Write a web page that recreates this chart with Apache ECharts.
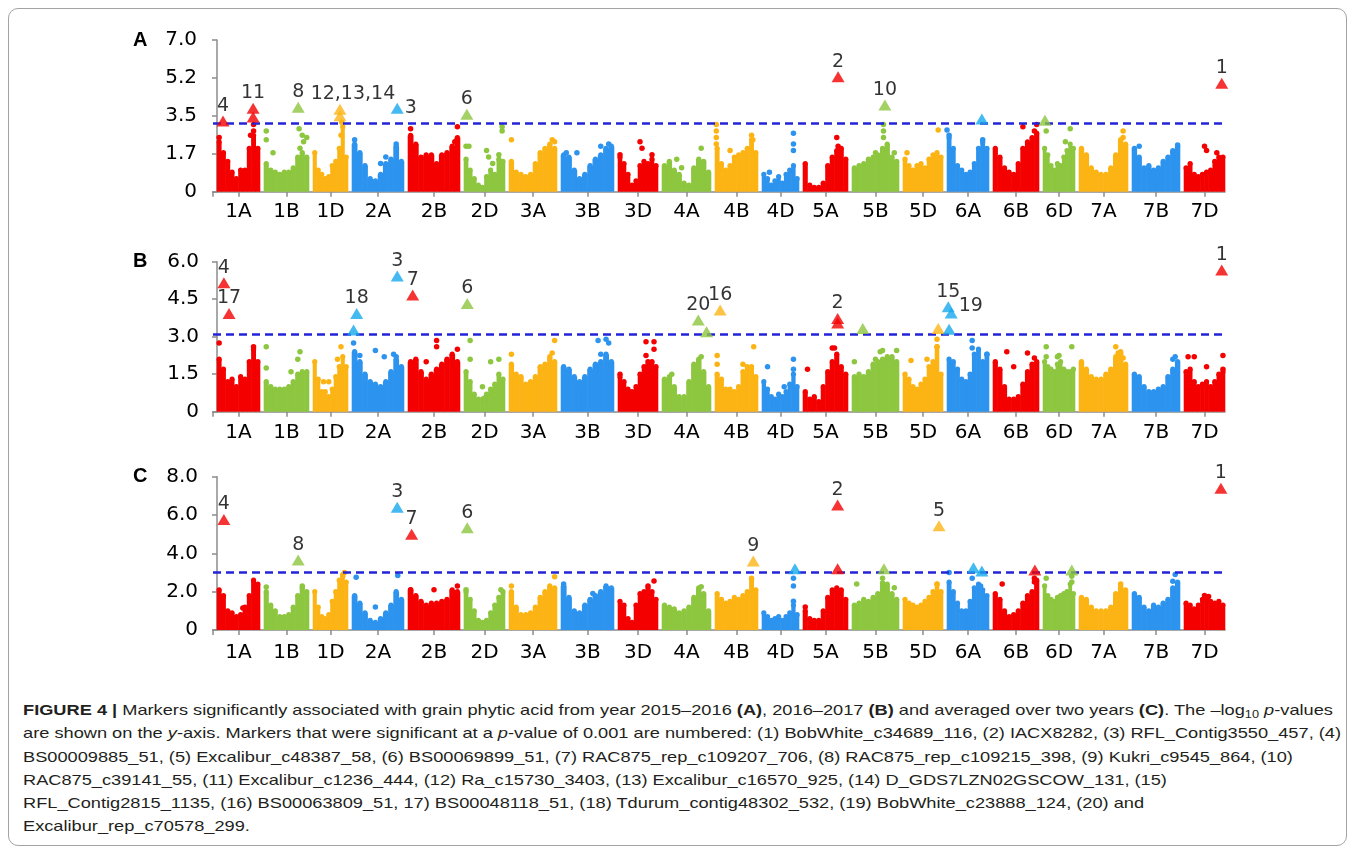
<!DOCTYPE html>
<html>
<head>
<meta charset="utf-8">
<script src="https://cdn.jsdelivr.net/npm/echarts@6/dist/echarts.min.js"></script>
<style>
  html, body { margin: 0; background: #fff; }
  #frame { position: absolute; left: 8px; top: 8px; width: 1339px; height: 838px;
           border: 1px solid #a3a3a3; border-radius: 10px; box-sizing: border-box; }
  #chart { position: absolute; left: 0; top: 0; width: 1355px; height: 690px; }
  #caption { position: absolute; left: 23px; top: 698px; color: #231f20; white-space: nowrap;
             font-family: "Liberation Sans", Arial, sans-serif;
             font-size: 15px; line-height: 23.3px; transform-origin: 0 0; }
  #caption span.l { display: inline-block; }
  #caption sub { font-size: 0.7em; vertical-align: -0.3em; line-height: 0; }
</style>
</head>
<body>
<div id="frame"></div>
<div id="chart"></div>
<div id="caption">
  <span class="l" id="line1"><b>FIGURE 4 |</b> Markers significantly associated with grain phytic acid from year 2015–2016 <b>(A)</b>, 2016–2017 <b>(B)</b> and averaged over two years <b>(C)</b>. The –log<sub>10</sub> <i>p</i>-values</span><br>
  <span class="l">are shown on the <i>y</i>-axis. Markers that were significant at a <i>p</i>-value of 0.001 are numbered: (1) BobWhite_c34689_116, (2) IACX8282, (3) RFL_Contig3550_457, (4)</span><br>
  <span class="l">BS00009885_51, (5) Excalibur_c48387_58, (6) BS00069899_51, (7) RAC875_rep_c109207_706, (8) RAC875_rep_c109215_398, (9) Kukri_c9545_864, (10)</span><br>
  <span class="l">RAC875_c39141_55, (11) Excalibur_c1236_444, (12) Ra_c15730_3403, (13) Excalibur_c16570_925, (14) D_GDS7LZN02GSCOW_131, (15)</span><br>
  <span class="l">RFL_Contig2815_1135, (16) BS00063809_51, 17) BS00048118_51, (18) Tdurum_contig48302_532, (19) BobWhite_c23888_124, (20) and</span><br>
  <span class="l">Excalibur_rep_c70578_299.</span>
</div>

<script>
// chromosomes and their relative lengths on the x axis
const chroms = ['1A','1B','1D','2A','2B','2D','3A','3B','3D','4A','4B','4D','5A','5B','5D','6A','6B','6D','7A','7B','7D'];
const chromLen = [43,45,35,52,52,41,48,53,40,49,43,37,45,47,40,42,46,32,49,48,41];

// y tick labels (as printed)
const yLabelsA = ['0','1.7','3.5','5.2','7.0'];
const yLabelsB = ['0','1.5','3.0','4.5','6.0'];
const yLabelsC = ['0','2.0','4.0','6.0','8.0'];

// significance thresholds (-log10 p)
const cutA = 3.15, cutB = 3.1, cutC = 3.0;

// dense part of each chromosome: max -log10 p in 10 bins along the chromosome
const massA = [
  [2.3,1.8,1.4,0.9,0.6,1.0,1.0,2.0,2.6,2.0],
  [1.3,1.0,0.9,0.8,0.9,0.9,1.1,1.6,1.8,1.6],
  [1.8,1.0,0.8,0.6,0.7,1.2,1.4,2.0,3.0,1.6],
  [2.2,1.8,1.2,0.6,0.5,0.8,1.3,1.5,2.1,1.4],
  [2.6,2.2,1.6,1.7,1.7,1.3,1.7,1.8,2.1,2.5],
  [1.5,1.0,0.6,0.3,0.2,0.7,1.0,0.8,1.5,1.4],
  [1.4,0.9,0.8,0.7,0.8,1.3,1.8,2.0,2.2,2.0],
  [1.7,1.6,1.0,0.6,0.8,1.2,1.5,1.7,2.0,2.1],
  [1.6,1.3,0.8,0.3,0.5,1.2,1.4,1.3,1.5,1.2],
  [1.2,1.4,1.0,0.8,0.4,0.3,1.1,1.5,1.4,0.9],
  [2.0,1.3,1.0,1.2,1.6,1.7,1.8,2.0,2.4,1.8],
  [0.8,0.6,0.3,0.5,0.7,0.4,0.8,1.0,1.2,0.6],
  [1.3,0.3,0.2,0.2,0.4,1.2,1.6,1.9,2.0,1.5],
  [1.1,1.2,1.3,1.5,1.6,1.7,2.0,2.2,1.6,1.4],
  [1.5,1.2,1.0,1.2,1.3,1.1,1.5,1.7,1.8,1.6],
  [2.5,2.0,1.2,1.0,0.8,0.9,1.3,2.0,2.3,2.0],
  [2.0,1.6,1.1,0.9,0.8,1.3,2.0,2.3,2.5,2.7],
  [2.0,1.7,1.2,1.0,1.3,1.2,1.6,1.9,2.2,2.0],
  [2.0,1.7,1.1,0.9,0.8,0.8,1.1,1.7,2.4,2.2],
  [2.0,1.6,1.1,1.2,1.0,1.1,1.4,1.6,1.9,2.1],
  [1.1,1.3,0.8,0.7,0.8,0.9,1.0,1.4,1.6,1.6]
];
const massB = [
  [2.1,1.7,1.2,1.3,1.0,1.4,1.3,2.0,2.5,2.0],
  [1.2,1.0,0.9,0.9,0.9,1.0,1.2,1.5,1.6,1.6],
  [2.0,1.3,0.8,0.8,0.6,0.9,1.4,1.8,2.2,1.8],
  [2.4,2.0,1.5,1.2,1.1,1.0,1.2,1.6,2.1,1.8],
  [2.0,2.1,1.6,1.3,1.5,1.7,1.9,2.1,2.3,2.0],
  [1.6,1.2,0.7,0.5,0.5,0.7,0.9,1.1,1.5,1.3],
  [1.9,1.5,1.4,1.1,1.2,1.4,1.8,1.9,2.2,2.0],
  [1.8,1.7,1.4,1.2,1.4,1.7,1.9,2.0,2.3,2.0],
  [1.4,1.2,0.9,0.8,1.0,1.5,1.8,1.9,2.0,1.8],
  [1.3,1.4,1.0,0.6,0.6,1.2,1.9,2.1,1.6,1.0],
  [1.5,1.3,0.9,0.9,0.8,1.0,1.6,1.8,1.8,1.4],
  [1.2,0.9,0.6,0.5,0.7,0.6,0.8,1.1,1.5,1.0],
  [0.8,0.5,0.6,0.4,1.0,1.6,2.0,2.3,1.8,1.5],
  [1.4,1.5,1.4,1.6,1.9,2.0,2.1,2.2,2.2,2.0],
  [1.5,1.3,1.0,0.9,1.1,1.3,1.8,2.0,2.6,1.5],
  [2.1,2.0,1.7,1.3,1.2,1.5,2.3,2.5,2.0,2.3],
  [2.0,1.7,1.0,0.5,0.5,0.6,1.1,1.6,1.9,2.0],
  [2.0,1.8,1.7,1.6,1.9,2.0,1.7,1.6,1.6,1.7],
  [2.0,1.7,1.4,1.3,1.3,1.5,1.7,2.2,2.4,1.9],
  [1.5,1.4,1.0,0.8,0.8,0.9,1.0,1.4,1.7,2.0],
  [1.6,1.7,1.2,1.0,1.1,1.2,1.0,1.2,1.5,1.6]
];
const massC = [
  [2.1,1.8,1.0,0.9,0.7,0.8,1.2,1.8,2.6,2.4],
  [2.0,1.3,1.0,0.7,0.7,0.8,1.2,1.8,2.2,2.0],
  [2.0,1.2,0.7,0.6,0.8,1.5,2.0,2.6,2.9,2.5],
  [1.8,1.4,0.9,0.5,0.4,0.6,0.9,1.3,2.0,1.6],
  [2.1,1.8,1.5,1.3,1.4,1.4,1.5,1.6,2.1,2.0],
  [2.0,1.6,1.0,0.5,0.4,0.5,0.9,1.3,1.7,2.0],
  [2.0,1.2,0.8,0.8,0.9,1.2,1.7,2.0,2.3,2.2],
  [2.3,1.7,1.0,0.9,1.3,1.6,1.8,2.0,2.3,2.2],
  [1.5,1.3,0.6,0.4,1.3,1.9,2.0,2.2,2.0,1.6],
  [1.3,1.2,1.1,0.9,1.0,1.2,1.7,2.2,1.9,1.0],
  [1.9,1.6,1.4,1.5,1.7,1.6,1.8,2.0,2.6,2.1],
  [0.9,0.7,0.5,0.6,0.7,0.5,0.7,0.9,1.3,0.8],
  [1.0,0.6,0.5,0.5,1.0,1.7,2.1,2.2,2.1,1.6],
  [1.3,1.4,1.6,1.5,1.7,1.9,2.3,2.4,1.9,1.6],
  [1.6,1.4,1.3,1.2,1.3,1.5,1.7,2.0,2.4,2.0],
  [2.5,2.0,1.4,1.0,1.0,1.5,2.2,2.4,2.1,1.8],
  [1.9,1.6,1.0,0.7,0.8,1.0,1.4,1.8,2.0,2.6],
  [2.3,1.8,1.6,1.5,1.7,1.8,1.9,2.0,2.4,1.9],
  [1.7,1.6,1.2,1.0,1.0,1.0,1.2,1.9,2.3,2.1],
  [1.9,1.7,1.2,1.0,1.3,1.2,1.4,1.6,2.2,2.5],
  [1.4,1.3,1.1,1.3,1.6,1.6,1.5,1.4,1.5,1.3]
];

// isolated markers above the dense part: [relative position in chromosome, -log10 p]
const dotsA = [
  [[0.05,2.5],[0.85,2.8],[0.85,3.1],[0.78,2.6]],
  [[0.05,2.8],[0.05,2.4],[0.2,1.8],[0.78,2.9],[0.85,2.6],[0.88,2.3],[0.95,2.5],[0.8,2.0]],
  [[0.82,3.2],[0.8,2.6]],
  [[0.05,2.4],[0.65,1.6],[0.55,1.3],[0.85,2.2]],
  [[0.05,2.9],[0.95,3.0],[0.9,2.3]],
  [[0.05,2.1],[0.12,2.1],[0.55,1.9],[0.6,1.6],[0.7,1.3],[0.93,3.0],[0.93,2.8],[0.85,1.7]],
  [[0.05,2.4],[0.9,2.4],[0.95,2.3]],
  [[0.1,1.8],[0.3,1.8],[0.75,2.1],[0.9,2.2]],
  [[0.55,2.3],[0.6,2.0],[0.85,1.7],[0.05,1.7]],
  [[0.8,2.0],[0.4,1.1],[0.3,1.5]],
  [[0.03,3.1],[0.03,2.8],[0.03,2.5],[0.03,2.2],[0.35,1.9],[0.85,2.6],[0.88,2.4]],
  [[0.85,2.7],[0.85,2.2],[0.85,1.9],[0.2,0.9]],
  [[0.75,2.5],[0.78,2.1]],
  [[0.67,3.1],[0.67,2.8],[0.67,2.5],[0.5,1.8],[0.9,1.8]],
  [[0.88,2.85],[0.1,1.8]],
  [[0.0,2.85],[0.05,2.6],[0.85,2.4]],
  [[0.65,3.0],[0.9,2.8],[0.95,3.1]],
  [[0.1,2.8],[0.85,2.9],[0.7,2.3]],
  [[0.9,2.8],[0.9,2.5]],
  [[0.15,2.1],[0.95,2.15]],
  [[0.5,2.1],[0.55,1.9],[0.8,1.8]]
];
const dotsB = [
  [[0.05,2.75],[0.85,2.6]],
  [[0.05,2.6],[0.05,1.75],[0.8,2.4],[0.75,2.1],[0.6,1.6]],
  [[0.8,2.6],[0.7,2.1],[0.3,1.2],[0.45,1.2]],
  [[0.03,2.75],[0.15,2.25],[0.45,2.45],[0.62,2.2],[0.8,2.3],[0.85,2.2]],
  [[0.55,2.85],[0.55,2.6],[0.95,2.5],[0.35,2.0]],
  [[0.15,2.85],[0.15,2.1],[0.65,2.0],[0.85,2.1],[0.45,1.0],[0.5,0.55]],
  [[0.05,2.3],[0.95,2.85],[0.9,2.35]],
  [[0.7,2.85],[0.85,2.9],[0.9,2.75],[0.75,2.3]],
  [[0.7,2.8],[0.9,2.8],[0.7,2.25],[0.9,2.5],[0.75,2.0],[0.05,1.5]],
  [[0.8,2.2],[0.2,1.5]],
  [[0.05,2.25],[0.05,1.9],[0.9,2.6],[0.65,1.9]],
  [[0.15,1.8],[0.85,2.1],[0.85,1.7],[0.6,1.0]],
  [[0.65,2.55],[0.7,2.55],[0.1,1.7]],
  [[0.05,2.0],[0.6,2.4],[0.65,2.45],[0.95,2.45],[0.5,2.1]],
  [[0.85,2.9],[0.85,2.6],[0.6,2.1],[0.2,2.05]],
  [[0.6,2.85],[0.6,2.55],[0.95,2.3]],
  [[0.3,2.4],[0.75,2.35],[0.9,2.15],[0.45,1.8]],
  [[0.1,2.6],[0.9,2.6],[0.5,2.25],[0.45,2.2],[0.1,2.2]],
  [[0.75,2.6],[0.8,2.35],[0.9,2.15]],
  [[0.85,2.1],[0.9,2.2]],
  [[0.1,2.2],[0.25,2.2],[0.55,1.8],[0.95,2.25],[0.95,1.7]]
];
const dotsC = [
  [[0.6,1.15]],
  [[0.05,2.25],[0.85,2.3]],
  [[0.9,3.0],[0.85,2.8]],
  [[0.08,2.75],[0.88,2.85],[0.45,1.2]],
  [[0.05,2.1],[0.95,2.3],[0.5,2.1]],
  [[0.05,2.1],[0.9,2.1]],
  [[0.05,2.3],[0.95,2.78]],
  [[0.05,2.4],[0.6,1.9]],
  [[0.9,2.56],[0.75,2.3]],
  [[0.8,2.26]],
  [[0.85,2.7]],
  [[0.85,2.7],[0.85,2.3],[0.85,1.5]],
  [[0.05,1.2]],
  [[0.1,2.4],[0.65,2.7],[0.65,2.45],[0.9,2.2]],
  [[0.85,2.4]],
  [[0.05,3.0],[0.6,2.7],[0.8,2.3]],
  [[0.2,2.4],[0.9,2.7],[0.9,2.5]],
  [[0.1,2.7],[0.9,2.8],[0.9,2.5]],
  [[0.85,2.4]],
  [[0.9,2.9],[0.85,2.55]],
  [[0.5,1.8],[0.6,1.75]]
];

// significant markers: [chromosome, relative position, -log10 p, number]
const hitsA = [
  ['1A',0.14,3.26,'4'], ['1A',0.84,3.45,''], ['1A',0.84,3.85,'11'], ['1B',0.76,3.9,'8'],
  ['1D',0.77,3.5,''], ['1D',0.77,3.8,'12,13,14'], ['2A',0.87,3.85,'3'], ['2D',0.07,3.57,'6'],
  ['5A',0.78,5.3,'2'], ['5B',0.70,4.0,'10'], ['6A',0.83,3.35,''], ['6D',0.06,3.3,''], ['7D',0.92,5.0,'1']
];
const hitsB = [
  ['1A',0.16,5.16,'4'], ['1A',0.28,3.93,'17'], ['2A',0.03,3.27,''], ['2A',0.09,3.93,'18'],
  ['2A',0.87,5.43,'3'], ['2B',0.09,4.67,'7'], ['2D',0.08,4.33,'6'], ['4A',0.74,3.67,'20'],
  ['4A',0.91,3.2,''], ['4B',0.12,4.07,'16'], ['5A',0.77,3.55,''], ['5A',0.77,3.73,'2'],
  ['5B',0.23,3.33,''], ['5D',0.88,3.33,''], ['6A',0.05,3.3,''], ['6A',0.03,4.2,'15'],
  ['6A',0.1,3.95,'19'], ['7D',0.92,5.67,'1']
];
const hitsC = [
  ['1A',0.16,5.77,'4'], ['1B',0.76,3.65,'8'], ['2A',0.87,6.4,'3'], ['2B',0.07,5.0,'7'],
  ['2D',0.08,5.34,'6'], ['4B',0.89,3.6,'9'], ['4D',0.89,3.2,''], ['5A',0.77,3.2,''],
  ['5A',0.77,6.52,'2'], ['5B',0.68,3.2,''], ['5D',0.9,5.44,'5'], ['6A',0.63,3.25,''],
  ['6A',0.83,3.08,''], ['6B',0.91,3.13,''], ['6D',0.9,3.13,''], ['7D',0.9,7.4,'1']
];

// ---------------------------------------------------------------------------
const COLORS = ['#f40000', '#8dc63f', '#fcb415', '#2c93ee'];
const HIT_BLUE = '#16a9ee';
const GAP = 4;
const FONT = '"DejaVu Sans", "Liberation Sans", sans-serif';

const chromStart = [];
chromLen.reduce((s, len, i) => { chromStart[i] = s; return s + len + GAP; }, 0);
const chromMid = chromLen.map((len, i) => chromStart[i] + len / 2);

function chromX(name, rel) {
  const i = chroms.indexOf(name);
  return chromStart[i] + rel * chromLen[i];
}

function massData(mass) {
  const out = [];
  mass.forEach((bins, i) => {
    const w = chromLen[i] / bins.length;
    bins.forEach((v, k) => {
      out.push([chromStart[i] + k * w, chromStart[i] + (k + 1) * w, v, i]);
    });
  });
  return out;
}

function dotData(dots) {
  const out = [];
  dots.forEach((list, i) => {
    list.forEach(d => out.push([chromStart[i] + d[0] * chromLen[i], d[1], i]));
  });
  return out;
}

function renderMass(params, api) {
  const a = api.coord([api.value(0), api.value(2)]);
  const b = api.coord([api.value(1), 0]);
  const col = COLORS[api.value(3) % 4];
  const w = b[0] - a[0];
  return {
    type: 'group',
    children: [
      { type: 'rect', shape: { x: a[0] - 0.3, y: a[1], width: w + 0.6, height: b[1] - a[1] }, style: { fill: col } },
      { type: 'circle', shape: { cx: a[0] + w / 2, cy: a[1], r: 2.6 }, style: { fill: col } }
    ]
  };
}

function hitData(hits, panel) {
  return hits.map(h => {
    const i = chroms.indexOf(h[0]);
    let col = COLORS[i % 4];
    if (i % 4 === 3) col = HIT_BLUE;
    const item = { value: [chromX(h[0], h[1]), h[2]], itemStyle: { color: col } };
    const label = { show: h[3] !== '', formatter: h[3], position: 'top', distance: 0 };
    if ((panel === 'A' && h[3] === '3') || (panel === 'B' && h[3] === '19')) {
      label.position = 'right';
      label.distance = 1;
      if (panel === 'B') label.offset = [0, -7];
    }
    if (h[3] === '12,13,14') label.offset = [13, 0];
    item.label = label;
    return item;
  });
}

const panels = [
  { id: 'A', mass: massA, dots: dotsA, hits: hitsA, max: 7, step: 1.75, ticks: yLabelsA, cut: cutA,
    top: 40, height: 151.7, yOff: 3, xOff: 4 },
  { id: 'B', mass: massB, dots: dotsB, hits: hitsB, max: 6, step: 1.5, ticks: yLabelsB, cut: cutB,
    top: 261.7, height: 150, yOff: 1, xOff: 5 },
  { id: 'C', mass: massC, dots: dotsC, hits: hitsC, max: 8, step: 2, ticks: yLabelsC, cut: cutC,
    top: 476.7, height: 153.3, yOff: 2, xOff: 6.5 }
];

const axisGray = { color: '#8c8c8c', width: 1.5 };
const option = {
  animation: false,
  grid: [], xAxis: [], yAxis: [], series: [],
  graphic: panels.map(p => ({
    type: 'text', left: 133, top: p.top - 10,
    style: { text: p.id, font: 'bold 20px "Liberation Sans", Arial, sans-serif', fill: '#000' }
  }))
};

panels.forEach((p, n) => {
  option.grid.push({ left: 213, width: 1012, top: p.top, height: p.height });
  option.xAxis.push({
    type: 'value', gridIndex: n, min: -4, max: 1008, offset: p.xOff,
    axisLine: { lineStyle: axisGray },
    axisTick: { show: true, length: 5, lineStyle: axisGray, customValues: [-4].concat(chromMid) },
    axisLabel: {
      customValues: chromMid, margin: 6, color: '#000', fontSize: 20, fontFamily: FONT,
      formatter: v => chroms[chromMid.findIndex(m => Math.abs(m - v) < 0.01)] || ''
    },
    splitLine: { show: false }
  });
  option.yAxis.push({
    type: 'value', gridIndex: n, min: 0, max: p.max, interval: p.step, offset: p.yOff,
    axisLine: { show: true, lineStyle: axisGray },
    axisTick: { show: true, length: 5, lineStyle: axisGray },
    axisLabel: { margin: 13, color: '#000', fontSize: 20, fontFamily: FONT,
                 formatter: v => p.ticks[Math.round(v / p.step)] },
    splitLine: { show: false }
  });
  option.series.push({
    type: 'custom', xAxisIndex: n, yAxisIndex: n, renderItem: renderMass,
    data: massData(p.mass), encode: { x: [0, 1], y: 2 }, silent: true
  });
  option.series.push({
    type: 'scatter', xAxisIndex: n, yAxisIndex: n, symbolSize: 5.5, silent: true,
    data: dotData(p.dots), itemStyle: { color: d => COLORS[d.value[2] % 4], opacity: 1 }
  });
  option.series.push({
    type: 'scatter', xAxisIndex: n, yAxisIndex: n, symbol: 'triangle', symbolSize: [13, 11],
    data: hitData(p.hits, p.id), z: 5,
    label: { color: '#000', fontSize: 19, fontFamily: FONT },
    markLine: {
      silent: true, symbol: 'none', label: { show: false },
      lineStyle: { type: [8, 5], color: '#2323d8', width: 2.5 },
      data: [{ yAxis: p.cut }]
    }
  });
});

const chart = echarts.init(document.getElementById('chart'));
chart.setOption(option);

// the figure is printed wider than the text's natural width: stretch the caption to the same span
function fitCaption() {
  const cap = document.getElementById('caption');
  const w = document.getElementById('line1').getBoundingClientRect().width;
  cap.style.transform = 'scaleX(' + (1310 / w).toFixed(4) + ')';
}
if (document.fonts && document.fonts.ready) document.fonts.ready.then(fitCaption); else fitCaption();
</script>
</body>
</html>
